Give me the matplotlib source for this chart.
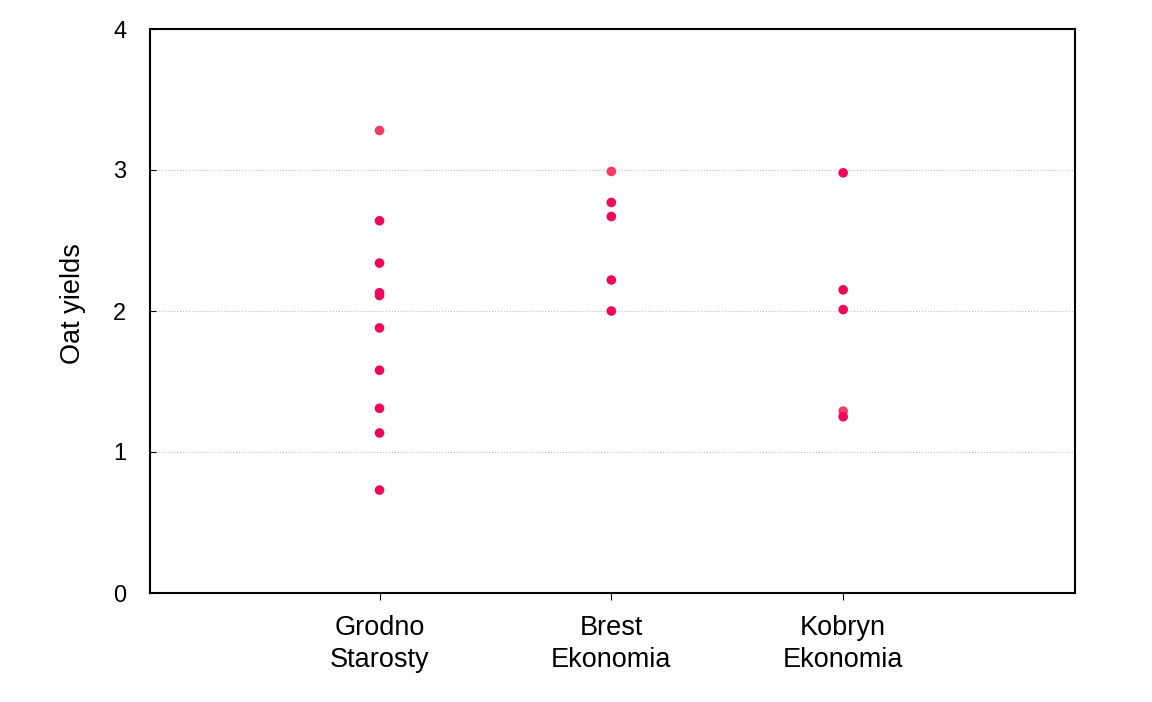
import matplotlib.pyplot as plt
import numpy as np

plt.rcParams['font.family'] = ['Liberation Sans', 'DejaVu Sans']

categories = ['Grodno\nStarosty', 'Brest\nEkonomia', 'Kobryn\nEkonomia']
grodno = [3.28, 2.64, 2.34, 2.13, 2.11, 1.88, 1.58, 1.31, 1.135, 0.73]
brest = [2.99, 2.77, 2.67, 2.22, 2.0]
kobryn = [2.98, 2.15, 2.01, 1.29, 1.25]
# a few dots are a lighter shade in the original
light_grodno = [True] + [False] * 9
light_brest = [True] + [False] * 4
light_kobryn = [False, False, False, True, False]

main_col = '#f0065a'
light_col = '#f23c64'

fig = plt.figure(figsize=(11.52, 7.02), dpi=100)
ax = fig.add_axes([150 / 1152, 1 - 593 / 702, 925 / 1152, 564 / 702])

for i, (vals, light) in enumerate([(grodno, light_grodno), (brest, light_brest), (kobryn, light_kobryn)]):
    x = np.full(len(vals), i + 1)
    cols = [light_col if l else main_col for l in light]
    ax.scatter(x, vals, s=48, c=cols, linewidths=0, zorder=3)

ax.set_xlim(0.01, 4.0)
ax.set_ylim(0, 4)
ax.set_yticks([0, 1, 2, 3, 4])
ax.set_xticks([1, 2, 3])
ax.set_xticklabels(categories, fontsize=19.5, linespacing=1.3)
ax.tick_params(axis='y', direction='in', length=4, labelsize=17, pad=17)
ax.tick_params(axis='x', direction='out', length=5, pad=11)
ax.grid(axis='y', color='#c0c0c0', linestyle=':', linewidth=0.8)
for s in ax.spines.values():
    s.set_linewidth(1.5)
ax.set_ylabel('Oat yields', fontsize=19.5)
ax.yaxis.set_label_coords(-0.069, 0.514)

fig.savefig('out.png')
